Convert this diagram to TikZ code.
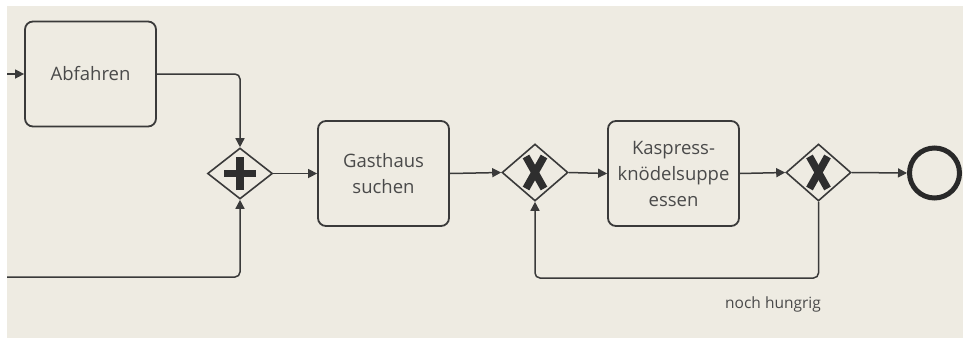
\documentclass[tikz,border=0pt]{standalone}
\usepackage{fontspec}
\setmainfont{Open Sans}
\usetikzlibrary{arrows.meta,shapes.geometric}
\definecolor{bg}{HTML}{EEEBE2}
\definecolor{ln}{HTML}{3A3A3A}
\definecolor{tx}{HTML}{4A4A4A}
\tikzset{
  task/.style={draw=ln, line width=1.8pt, rounded corners=8pt, minimum width=131pt, minimum height=105pt, inner sep=0pt, text=tx, align=center, font=\fontsize{18.5}{26}\selectfont},
  gate/.style={draw=ln, line width=1.6pt, shape=diamond, inner sep=0pt},
  flow/.style={draw=ln, line width=1.5pt, rounded corners=5pt, -{Triangle[length=9pt,width=9pt]}},
  gmark/.style={line width=7.5pt, draw=ln!80!black},
}
\begin{document}
\begin{tikzpicture}[x=1pt,y=-1pt]
\useasboundingbox (0,0) rectangle (963,338);
\fill[white] (0,0) rectangle (963,338);
\fill[bg] (7,6) rectangle (963,338);

\node[task] (abf) at (90.5,74) {Abfahren};
\node[gate, minimum width=65pt, minimum height=51pt] (plus) at (240,173.5) {};
\node[task] (gast) at (383.5,173.5) {Gasthaus\\suchen};
\node[gate, minimum width=66pt, minimum height=57pt] (x1) at (535,172.5) {};
\node[task] (kas) at (673.5,173.5) {Kaspress-\\knödelsuppe\\essen};
\node[gate, minimum width=65pt, minimum height=57pt] (x2) at (818.5,172.5) {};
\node[draw=ln!70!black, line width=5pt, circle, minimum size=50pt, inner sep=0pt] (end) at (934.5,173) {};
\node[text=tx, font=\fontsize{15.5}{18}\selectfont] (lbl) at (773,304) {noch hungrig};

% gateway markers
\draw[gmark] ([xshift=-16pt]plus.center) -- ([xshift=16pt]plus.center);
\draw[gmark] ([yshift=-16.5pt]plus.center) -- ([yshift=16.5pt]plus.center);
\draw[gmark] ([shift={(-9,-16)}]x1.center) -- ([shift={(9,16)}]x1.center);
\draw[gmark] ([shift={(9,-16)}]x1.center) -- ([shift={(-9,16)}]x1.center);
\draw[gmark] ([shift={(-9,-16)}]x2.center) -- ([shift={(9,16)}]x2.center);
\draw[gmark] ([shift={(9,-16)}]x2.center) -- ([shift={(-9,16)}]x2.center);

% connectors
\coordinate (s1) at (7,74);
\coordinate (s2) at (7,277);
\coordinate (lp) at (0,278);
\draw[flow] (s1) -- (abf.west);
\draw[flow] (abf.east) -| (plus.north);
\draw[flow] (s2) -| (plus.south);
\draw[flow] (plus.east) -- (gast.west);
\draw[flow] (gast.east) -- (x1.west);
\draw[flow] (x1.east) -- (kas.west);
\draw[flow] (kas.east) -- (x2.west);
\draw[flow] (x2.east) -- (end.west);
\draw[flow] (x2.south) -- (x2.south |- lp) -- (x1.south |- lp) -- (x1.south);
\end{tikzpicture}
\end{document}
